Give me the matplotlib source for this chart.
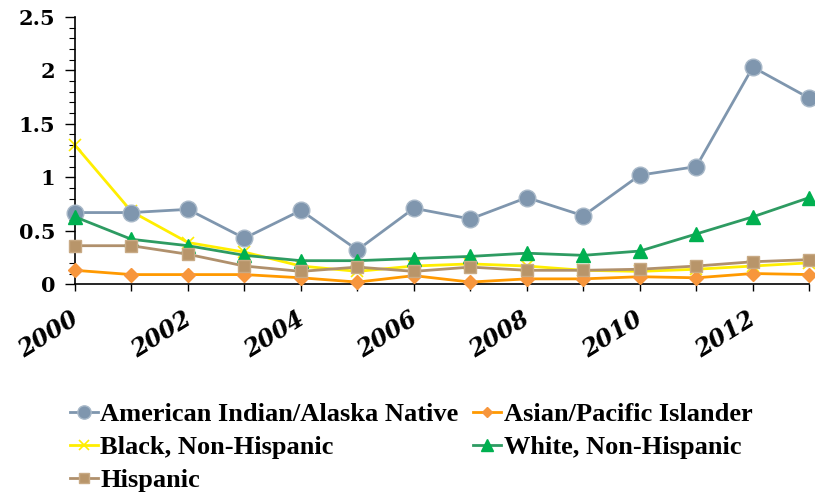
import matplotlib.pyplot as plt
import matplotlib.transforms as mtransforms
import numpy as np

years = np.arange(2000, 2014)

aian = [0.67, 0.67, 0.70, 0.43, 0.69, 0.32, 0.71, 0.61, 0.81, 0.64, 1.02, 1.10, 2.03, 1.74]
asian = [0.13, 0.09, 0.09, 0.09, 0.06, 0.02, 0.08, 0.02, 0.05, 0.05, 0.07, 0.06, 0.10, 0.09]
black = [1.30, 0.68, 0.39, 0.30, 0.17, 0.12, 0.17, 0.19, 0.17, 0.13, 0.12, 0.14, 0.17, 0.20]
white = [0.63, 0.42, 0.36, 0.27, 0.22, 0.22, 0.24, 0.26, 0.29, 0.27, 0.31, 0.47, 0.63, 0.81]
hispanic = [0.36, 0.36, 0.28, 0.17, 0.12, 0.16, 0.12, 0.16, 0.13, 0.13, 0.14, 0.17, 0.21, 0.23]

fig = plt.figure(figsize=(8.15, 4.96), dpi=100)
ax = fig.add_axes([0.092, 0.427, 0.901, 0.539])

lines = {}
lines['aian'], = ax.plot(years, aian, color='#7f96ae', lw=2, marker='o', ms=12,
                         mfc='#7f96ae', mec='#a8b8c8', mew=1, clip_on=False,
                         label='American Indian/Alaska Native', zorder=3)
lines['asian'], = ax.plot(years, asian, color='#ff9900', lw=2, marker='D', ms=7,
                          mfc='#f7963c', mec='#f7963c', clip_on=False,
                          label='Asian/Pacific Islander', zorder=3)
lines['black'], = ax.plot(years, black, color='#ffee00', lw=2, marker='x', ms=9,
                          mec='#ffee00', mew=1.2, clip_on=False,
                          label='Black, Non-Hispanic', zorder=2)
lines['white'], = ax.plot(years, white, color='#2e9b62', lw=2, marker='^', ms=10,
                          mfc='#00b050', mec='#00b050', clip_on=False,
                          label='White, Non-Hispanic', zorder=3)
lines['hisp'], = ax.plot(years, hispanic, color='#b0906c', lw=2, marker='s', ms=9,
                         mfc='#b8956a', mec='#c8aa85', mew=1, clip_on=False,
                         label='Hispanic', zorder=3)

ax.set_xlim(2000, 2013)
ax.set_ylim(0, 2.5)
ax.set_yticks([0, 0.5, 1, 1.5, 2, 2.5])
ax.set_yticklabels(['0', '0.5', '1', '1.5', '2', '2.5'])
ax.set_yticks(np.arange(0, 2.51, 0.1), minor=True)
ax.set_xticks(years, minor=True)
ax.set_xticks(years[::2])
ax.set_xticklabels([str(y) for y in years[::2]])

for s in ['top', 'right']:
    ax.spines[s].set_visible(False)
for s in ['left', 'bottom']:
    ax.spines[s].set_color('black')
    ax.spines[s].set_linewidth(1.2)

ax.tick_params(axis='y', which='major', length=7, width=1, pad=7, labelsize=15)
ax.tick_params(axis='y', which='minor', length=4, width=0.8)
ax.tick_params(axis='x', which='both', length=5, width=1, pad=11, labelsize=17)

for lab in ax.get_yticklabels():
    lab.set_fontfamily('DejaVu Serif')
    lab.set_fontweight('bold')

offset = mtransforms.ScaledTranslation(-0.27, 0, fig.dpi_scale_trans)
for lab in ax.get_xticklabels():
    lab.set_fontfamily('DejaVu Serif')
    lab.set_fontweight('bold')
    lab.set_fontstyle('italic')
    lab.set_rotation(32)
    lab.set_ha('center')
    lab.set_transform(lab.get_transform() + offset)

order = ['aian', 'black', 'hisp', 'asian', 'white']
leg = fig.legend([lines[k] for k in order], [lines[k].get_label() for k in order],
                 ncol=2, loc='upper left', bbox_to_anchor=(0.086, 0.188),
                 frameon=False, handlelength=1.06, handletextpad=0.08,
                 columnspacing=0.57, labelspacing=0.36, markerscale=0.8,
                 borderaxespad=0, borderpad=0,
                 prop={'family': 'Liberation Serif', 'weight': 'bold', 'size': 19})

fig.savefig('out.png', dpi=100)
